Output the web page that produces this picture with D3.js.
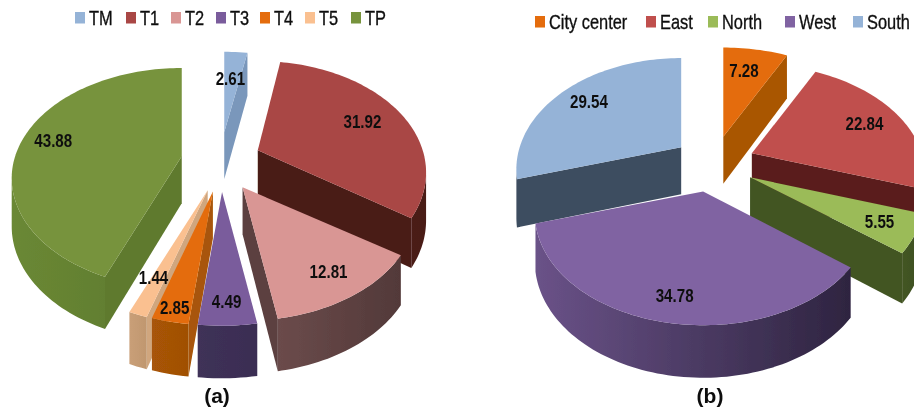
<!DOCTYPE html>
<html><head><meta charset="utf-8">
<script src="https://cdn.jsdelivr.net/npm/d3@7/dist/d3.min.js"></script>
<style>html,body{margin:0;padding:0;background:#fff;overflow:hidden}svg{display:block}
text{font-family:"Liberation Sans",sans-serif;fill:#111}</style>
</head><body><svg id="c" width="914" height="412"></svg>
<script>
// Chart (a)
const catsA = ["TM","T1","T2","T3","T4","T5","TP"];
const valsA = [2.61,31.92,12.81,4.49,2.85,1.44,43.88];
const topA  = ["#95b3d7","#a94644","#d99694","#7a5b9c","#e46c0a","#fac090","#77933c"];
const sideA = ["#7a97bb","#4a1c18","#5b3f3f","#3f3158","#a85407","#d0a67e","#5f7a2e"];
const rimA0 = ["#7a97bb","#4f1f1a","#6b4b4b","#3f3158","#a85407","#c99f78","#6a8835"];
const rimA1 = ["#7a97bb","#4a1c18","#523939","#3a2d52","#a05005","#c0976f","#5c782c"];
const orderA = [6,1,0,2,5,4,3];
const lblRA = [.63,.73,.81,.85,.91,.75,.81];
const lblShiftA = [-1,0,0,0,0,2,0];
const legXA = [75,126,171,216,260,305,351];
const rxAdjA = [1,.97,1,1,1,1,.98];
const ryAdjA = [.9,1,1,1,1,1,.99];
const nudgeA = [0,0,0,0,0,0,0];
// Chart (b)
const catsB = ["City center","East","North","West","South"];
const valsB = [7.28,22.84,5.55,34.78,29.54];
const topB  = ["#e46c0a","#c0504d","#9bbb59","#8064a2","#95b3d7"];
const sideB = ["#a95606","#5a1f1c","#435524","#3a2d52","#3e4d60"];
const rimB0 = ["#a95606","#5a1f1c","#435524","#6a5288","#3e4d60"];
const rimB1 = ["#a95606","#4f1b18","#3e4f20","#2e2440","#3e4d60"];
const orderB = [4,0,1,2,3];
const lblRB = [.72,.76,.80,.83,.78];
const lblShiftB = [-2,0,0,-1,0];
const legXB = [535,646,708,785,853];
const rxAdjB = [1,1,1,.97,.95];
const ryAdjB = [1,1,1,1,1];
const nudgeB = [0,0,0,-3,0];

const RX=170, RY=107, K=.2, DEPTH=47, NARROW=.82;
const svg=d3.select("#c");
const defs=svg.append("defs");
defs.append("filter").attr("id","soft").attr("x","-5%").attr("y","-5%").attr("width","110%").attr("height","110%")
  .append("feGaussianBlur").attr("stdDeviation",.45);
const root=svg.append("g").attr("filter","url(#soft)");
const line=d3.line().x(d=>d[0]).y(d=>d[1]);
function proj(th,r,rxA,ryA){const u=r*Math.sin(th),v=-r*Math.cos(th),w=1-K*v;return [RX*rxA*u/w,RY*ryA*v/w,w];}

function drawPie(id,o){
  const pie=d3.pie().sort(null)(o.vals);
  const g=root.append("g");
  const labels=[];
  o.order.forEach(i=>{
    const a=pie[i],mid=(a.startAngle+a.endAngle)/2;
    const ax=o.cx+o.nudge[i]+o.ex*Math.sin(mid), ay=o.cy-o.ey*Math.cos(mid);
    const P=(th,r)=>{const p=proj(th,r,o.rxAdj[i],o.ryAdj[i]);return [ax+p[0],ay+p[1],p[2]];};
    const ths=d3.range(a.startAngle,a.endAngle,Math.PI/120).concat([a.endAngle]);
    const arc=ths.map(t=>P(t,1));
    const apex=[ax,ay,1];
    const down=p=>[p[0],p[1]+DEPTH/Math.sqrt(p[2])];
    const wall=pts=>line([...pts.map(p=>[p[0],p[1]]),...pts.slice().reverse().map(down)])+"Z";
    const sl=g.append("g");
    if(arc[0][0]<apex[0]) sl.append("path").attr("d",wall([apex,arc[0]])).attr("fill",o.side[i]);
    const last=arc[arc.length-1];
    if(apex[0]<last[0]) sl.append("path").attr("d",wall([last,apex])).attr("fill",o.side[i]);
    const gid=`${id}r${i}`;
    const gr=defs.append("linearGradient").attr("id",gid).attr("gradientUnits","userSpaceOnUse")
      .attr("x1",d3.min(arc,d=>d[0])).attr("x2",d3.max(arc,d=>d[0])).attr("y1",0).attr("y2",0);
    gr.append("stop").attr("offset",0).attr("stop-color",o.rim0[i]);
    gr.append("stop").attr("offset",1).attr("stop-color",o.rim1[i]);
    let run=[];
    const flush=()=>{ if(run.length>1) sl.append("path").attr("d",wall(run)).attr("fill",`url(#${gid})`); run=[]; };
    d3.pairs(arc).forEach(([p,q])=>{
      if(q[0]<p[0]){ if(!run.length) run.push(p); run.push(q); } else flush();
    });
    flush();
    sl.append("path").attr("d",line([apex,...arc])+"Z").attr("fill",o.top[i]);
    const lp=P(mid+o.lblShift[i]*Math.PI/180,o.lblR[i]);
    labels.push([lp,o.vals[i]]);
  });
  g.selectAll("text.v").data(labels).join("text").attr("class","v")
    .attr("transform",d=>`translate(${d[0][0]},${d[0][1]}) scale(${NARROW},1)`).attr("dy","0.35em")
    .attr("text-anchor","middle").attr("font-weight","bold").attr("font-size",18.5)
    .text(d=>d[1].toFixed(2));
  const lg=g.selectAll("g.leg").data(o.cats).join("g").attr("class","leg")
    .attr("transform",(d,i)=>`translate(${o.legX[i]},${o.legY})`);
  lg.append("rect").attr("x",0).attr("y",-6).attr("width",10).attr("height",11.5).attr("fill",(d,i)=>o.top[i]);
  lg.append("text").attr("transform",`translate(14,0) scale(${NARROW},1)`).attr("dy","0.35em").attr("font-size",20)
    .attr("stroke","#111").attr("stroke-width",.35).text(d=>d);
  g.append("text").attr("x",o.capX).attr("y",396).attr("dy","0.35em").attr("text-anchor","middle")
    .attr("font-weight","bold").attr("font-size",21).text(o.cap);
}
drawPie("a",{cats:catsA,vals:valsA,top:topA,side:sideA,rim0:rimA0,rim1:rimA1,order:orderA,lblR:lblRA,lblShift:lblShiftA,
  rxAdj:rxAdjA,ryAdj:ryAdjA,nudge:nudgeA,legX:legXA,legY:18,cx:221,cy:162,ex:40,ey:30,capX:217,cap:"(a)"});
drawPie("b",{cats:catsB,vals:valsB,top:topB,side:sideB,rim0:rimB0,rim1:rimB1,order:orderB,lblR:lblRB,lblShift:lblShiftB,
  rxAdj:rxAdjB,ryAdj:ryAdjB,nudge:nudgeB,legX:legXB,legY:22,cx:714,cy:164,ex:41,ey:28,capX:710,cap:"(b)"});
</script></body></html>
